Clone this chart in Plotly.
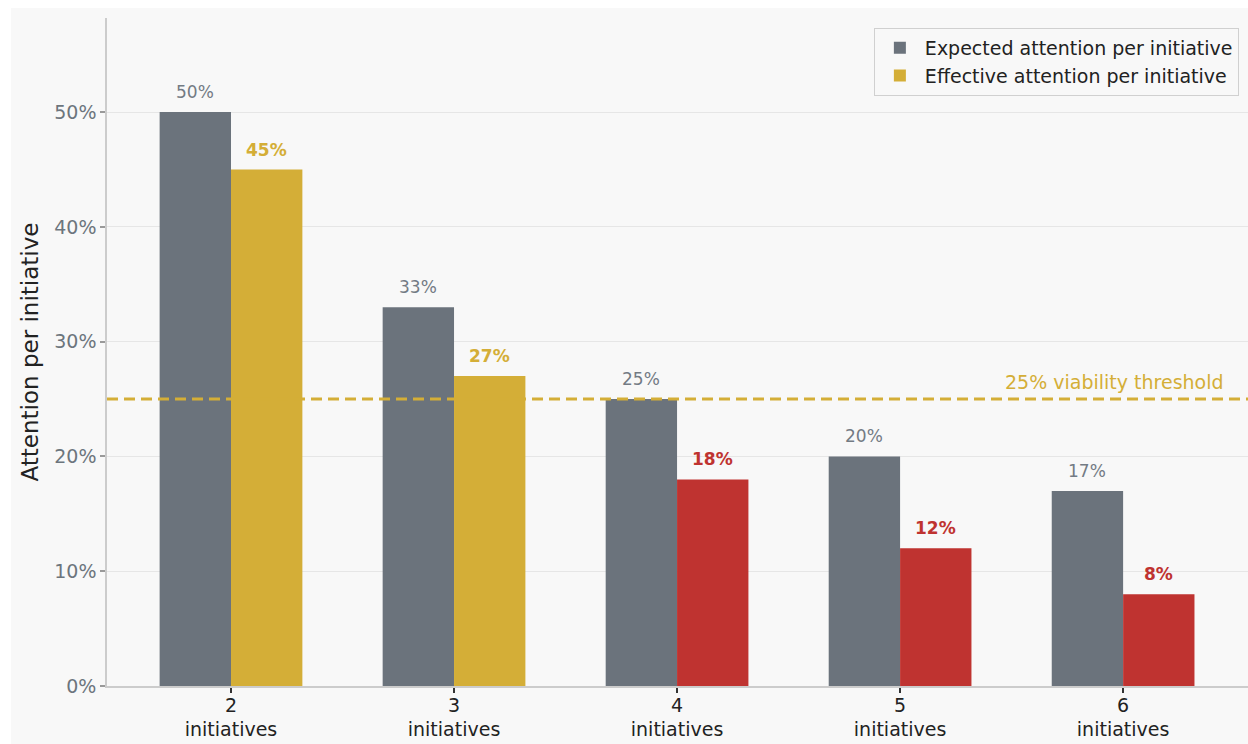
import plotly.graph_objects as go

categories = ["2<br>initiatives", "3<br>initiatives", "4<br>initiatives", "5<br>initiatives", "6<br>initiatives"]
expected = [0.50, 0.33, 0.25, 0.20, 0.17]
effective = [0.45, 0.27, 0.18, 0.12, 0.08]
threshold = 0.25
y_ticks = [0, 0.1, 0.2, 0.3, 0.4, 0.5]
y_tick_labels = ["0%", "10%", "20%", "30%", "40%", "50%"]

GRAY = "#6b737c"
GOLD = "#d4ae37"
RED = "#bf3330"
LABEL_GRAY = "#737b84"
FONT = "DejaVu Sans"

eff_colors = [GOLD if v >= threshold else RED for v in effective]

idx = list(range(len(categories)))
bw = 0.32
x_exp = [i - bw / 2 for i in idx]
x_eff = [i + bw / 2 for i in idx]

fig = go.Figure()
fig.add_trace(go.Bar(x=x_exp, y=expected, width=bw, marker=dict(color=GRAY, line=dict(width=0)),
                     name="Expected attention per initiative", hoverinfo="skip"))
fig.add_trace(go.Bar(x=x_eff, y=effective, width=bw, marker=dict(color=eff_colors, line=dict(width=0)),
                     name="Effective attention per initiative", hoverinfo="skip"))

annotations = []
for xe, v in zip(x_exp, expected):
    annotations.append(dict(x=xe, y=v, text=f"{round(v*100)}%", showarrow=False, yanchor="bottom",
                            yshift=8, font=dict(family=FONT, size=17, color=LABEL_GRAY)))
for xf, v, c in zip(x_eff, effective, eff_colors):
    annotations.append(dict(x=xf, y=v, text=f"<b>{round(v*100)}%</b>", showarrow=False, yanchor="bottom",
                            yshift=8, font=dict(family=FONT, size=17, color=c)))
annotations.append(dict(x=1.0, xref="paper", y=threshold, yref="y", xanchor="right", yanchor="bottom",
                        xshift=-22, yshift=4, showarrow=False, text=f"{round(threshold*100)}% viability threshold",
                        font=dict(family=FONT, size=19, color=GOLD)))

shapes = [
    dict(type="rect", xref="paper", yref="paper", x0=-0.0841, x1=1.01, y0=-0.1, y1=1.015,
         fillcolor="#f8f8f8", line=dict(width=0), layer="below"),
    dict(type="line", xref="paper", yref="y", x0=0, x1=1, y0=threshold, y1=threshold,
         line=dict(color=GOLD, width=3, dash="11px,6px"), layer="above"),
]

fig.update_layout(
    width=1248, height=744,
    margin=dict(l=107, r=0, t=18, b=58),
    paper_bgcolor="white", plot_bgcolor="#f8f8f8",
    font=dict(family=FONT, size=19, color="#222222"),
    barmode="overlay",
    showlegend=True,
    legend=dict(x=0.992, y=0.985, xanchor="right", yanchor="top",
                bgcolor="#f8f8f8", bordercolor="#d0d0d0", borderwidth=1,
                font=dict(family=FONT, size=19, color="#222222"), tracegroupgap=2,
                itemwidth=40),
    annotations=annotations,
    shapes=shapes,
    xaxis=dict(range=[-0.556, 4.56], tickmode="array", tickvals=idx, ticktext=categories,
               showgrid=False, zeroline=False, showline=True, linecolor="#cccccc", linewidth=1.5,
               ticks="outside", ticklen=5, tickcolor="#333333", tickwidth=1.5, ticklabelstandoff=-4,
               tickfont=dict(family=FONT, size=19, color="#222222")),
    yaxis=dict(range=[0, 0.582], tickmode="array", tickvals=y_ticks, ticktext=y_tick_labels,
               showgrid=True, gridcolor="#e6e6e6", gridwidth=1, zeroline=False,
               showline=True, linecolor="#cccccc", linewidth=1.5,
               ticks="outside", ticklen=5, tickcolor="#999999", tickwidth=1.5,
               tickfont=dict(family=FONT, size=19, color="#6c757d"),
               title=dict(text="Attention per initiative", font=dict(family=FONT, size=23, color="#222222"),
                          standoff=9)),
)

fig.write_html("out.html")
